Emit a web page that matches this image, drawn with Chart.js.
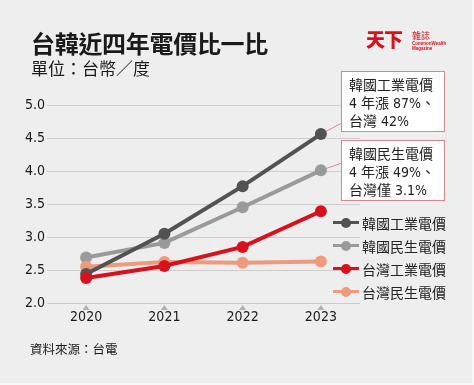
<!DOCTYPE html>
<html>
<head>
<meta charset="utf-8">
<script src="https://cdn.jsdelivr.net/npm/chart.js@4"></script>
<style>
  html, body { margin:0; padding:0; }
  body { width:474px; height:385px; background:#eeeeee; position:relative; overflow:hidden;
         font-family:"Noto Sans CJK TC","Noto Sans",sans-serif; color:#1a1a1a; }
  #wrap { position:absolute; left:0; top:0; width:474px; height:385px; }
  .abs { position:absolute; white-space:nowrap; }
  #title { left:31px; top:27px; font-size:24px; font-weight:700; line-height:32px; letter-spacing:-0.3px; }
  #sub { left:31px; top:57px; font-size:17px; line-height:22px; }
  #src { left:30px; top:340px; font-size:12.5px; line-height:18px; }
  .box { position:absolute; background:#ffffff; border:1px solid #e0848c; padding:4px 7px 4px 7px;
         font-size:14px; line-height:17px; color:#222;
         font-family:"Liberation Sans Narrow","DejaVu Sans Condensed","Noto Sans CJK TC",sans-serif; }
  .box .c { font-family:"Noto Sans CJK TC",sans-serif; }
  #legend { position:absolute; left:333px; top:211px; }
  .li { height:23px; display:flex; align-items:center; font-size:14px; color:#222; }
  .mk { position:relative; width:26px; height:12px; margin-right:3px; }
  .mk .ln { position:absolute; left:0; top:4.5px; width:26px; height:3px; }
  .mk .dt { position:absolute; left:8px; top:1px; width:10px; height:10px; border-radius:50%; }
  #logo1 { left:366px; top:29px; font-size:19px; font-weight:900; color:#d7111b; letter-spacing:-1px; line-height:19px; font-family:"Noto Sans CJK TC",serif; }
  #logo2 { left:412px; top:30px; font-size:9px; color:#d7111b; line-height:11px; }
  #logo3 { left:412px; top:42px; font-size:4.5px; color:#d7111b; line-height:4.5px; font-weight:700; font-family:"Liberation Sans","DejaVu Sans",sans-serif; }
  #edgeB { position:absolute; left:0; bottom:0; width:474px; height:2px; background:#f8f8f8; }
  #edgeR { position:absolute; right:0; top:0; width:2px; height:385px; background:#f8f8f8; }
</style>
</head>
<body>
<div id="wrap"><canvas id="c" width="474" height="385"></canvas></div>
<div id="title" class="abs">台韓近四年電價比一比</div>
<div id="sub" class="abs">單位：台幣／度</div>
<div id="logo1" class="abs">天下</div>
<div id="logo2" class="abs">雜誌</div>
<div id="logo3" class="abs">CommonWealth<br>Magazine</div>
<div id="box1" class="box" style="left:341px; top:71px; width:88px; height:51px;">
  <span class="c">韓國工業電價</span><br>4 <span class="c">年漲</span> 87%<span class="c">、</span><br><span class="c">台灣</span> 42%
</div>
<div id="box2" class="box" style="left:341px; top:140px; width:88px; height:51px;">
  <span class="c">韓國民生電價</span><br>4 <span class="c">年漲</span> 49%<span class="c">、</span><br><span class="c">台灣僅</span> 3.1%
</div>
<div id="legend"></div>
<div id="src" class="abs">資料來源：台電</div>
<div id="edgeB"></div>
<div id="edgeR"></div>
<script>
const years = ["2020", "2021", "2022", "2023"];
const seriesNames = ["韓國工業電價", "韓國民生電價", "台灣工業電價", "台灣民生電價"];
const koreaIndustrial = [2.44, 3.05, 3.77, 4.56];
const koreaResidential = [2.69, 2.91, 3.45, 4.01];
const taiwanIndustrial = [2.38, 2.56, 2.85, 3.39];
const taiwanResidential = [2.55, 2.62, 2.61, 2.63];
const seriesColors = ["#525252", "#9a9a9a", "#d8111c", "#ef9a7c"];
const drawOrder = [1, 3, 0, 2];
const yMin = 2.0, yMax = 5.0, yStep = 0.5;

const allValues = [koreaIndustrial, koreaResidential, taiwanIndustrial, taiwanResidential];
const numFont = '"Liberation Sans Narrow","DejaVu Sans Condensed","Roboto",sans-serif';

const datasets = allValues.map((vals, i) => ({
  label: seriesNames[i],
  data: vals,
  borderColor: seriesColors[i],
  backgroundColor: seriesColors[i],
  pointBackgroundColor: seriesColors[i],
  pointBorderColor: seriesColors[i],
  pointRadius: 6,
  pointBorderWidth: 0,
  borderWidth: 4,
  tension: 0,
  order: drawOrder[i]
}));

// HTML legend
const leg = document.getElementById('legend');
seriesNames.forEach((n, i) => {
  const row = document.createElement('div');
  row.className = 'li';
  row.innerHTML = '<div class="mk"><div class="ln" style="background:' + seriesColors[i] + '"></div><div class="dt" style="background:' + seriesColors[i] + '"></div></div><span>' + n + '</span>';
  leg.appendChild(row);
});

const extras = {
  id: 'extras',
  beforeDatasetsDraw(chart) {
    const ctx = chart.ctx;
    const m0 = chart.getDatasetMeta(0).data[3];
    const m1 = chart.getDatasetMeta(1).data[3];
    ctx.save();
    ctx.strokeStyle = '#e0848c';
    ctx.lineWidth = 1;
    ctx.beginPath();
    ctx.moveTo(m0.x, m0.y); ctx.lineTo(342, 123);
    ctx.moveTo(m1.x, m1.y); ctx.lineTo(342, 163);
    ctx.stroke();
    ctx.restore();
  },
  afterDraw(chart) {
    const ctx = chart.ctx;
    const xs = chart.scales.x;
    const yb = chart.chartArea.bottom;
    ctx.save();
    ctx.fillStyle = '#b0b0b0';
    years.forEach((y, i) => {
      const px = xs.getPixelForTick(i);
      ctx.beginPath();
      ctx.moveTo(px - 3.5, yb + 7);
      ctx.lineTo(px + 3.5, yb + 7);
      ctx.lineTo(px, yb + 2);
      ctx.closePath();
      ctx.fill();
    });
    ctx.restore();
  }
};

new Chart(document.getElementById('c'), {
  type: 'line',
  data: { labels: years, datasets },
  options: {
    responsive: false,
    animation: false,
    layout: { padding: { left: 0, right: 114, top: 105, bottom: 52 } },
    plugins: { legend: { display: false }, tooltip: { enabled: false } },
    scales: {
      x: {
        offset: true,
        grid: { display: false, drawTicks: false },
        border: { display: false },
        ticks: { color: '#1a1a1a', padding: 6, font: { family: numFont, size: 14 } },
        afterFit(s) { s.height = 30; }
      },
      y: {
        min: yMin, max: yMax,
        grid: { color: '#cdcdcd', lineWidth: 1, drawTicks: false },
        border: { display: false },
        ticks: { stepSize: yStep, color: '#1a1a1a', padding: 2,
                 font: { family: numFont, size: 14 },
                 callback: v => Number(v).toFixed(1) },
        afterFit(s) { s.width = 47; }
      }
    }
  },
  plugins: [extras]
});
</script>
</body>
</html>
